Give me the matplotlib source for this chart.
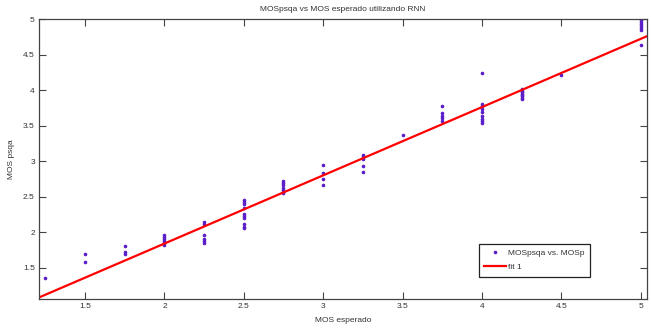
import matplotlib
matplotlib.use("Agg")
import matplotlib.pyplot as plt
import numpy as np

plt.rcParams['font.family'] = ['Liberation Sans', 'DejaVu Sans']

# MOS esperado (x) values per group and MOSpsqa measurements
x_125 = [1.25]; y_125 = [1.35]
x_150 = [1.5] * 2; y_150 = [1.69, 1.58]
x_175 = [1.75] * 3; y_175 = [1.80, 1.72, 1.70]
x_200 = [2.0] * 6; y_200 = [1.96, 1.93, 1.91, 1.88, 1.85, 1.82]
x_225 = [2.25] * 6; y_225 = [2.14, 2.11, 1.96, 1.91, 1.87, 1.85]
x_250 = [2.5] * 10; y_250 = [2.46, 2.42, 2.40, 2.34, 2.26, 2.23, 2.20, 2.11, 2.08, 2.06]
x_275 = [2.75] * 7; y_275 = [2.72, 2.69, 2.66, 2.62, 2.59, 2.57, 2.55]
x_300 = [3.0] * 4; y_300 = [2.94, 2.83, 2.75, 2.67]
x_325 = [3.25] * 5; y_325 = [3.09, 3.06, 3.03, 2.93, 2.85]
x_350 = [3.5]; y_350 = [3.37]
x_375 = [3.75] * 5; y_375 = [3.77, 3.68, 3.64, 3.60, 3.57]
x_400 = [4.0] * 9; y_400 = [4.24, 3.81, 3.77, 3.73, 3.69, 3.63, 3.59, 3.56, 3.53]
x_425 = [4.25] * 8; y_425 = [4.02, 3.99, 3.97, 3.95, 3.93, 3.91, 3.89, 3.87]
x_450 = [4.5]; y_450 = [4.21]
x_500 = [5.0] * 7; y_500 = [4.99, 4.96, 4.93, 4.90, 4.87, 4.84, 4.64]

mos_esperado = np.array(x_125 + x_150 + x_175 + x_200 + x_225 + x_250 + x_275 + x_300
                        + x_325 + x_350 + x_375 + x_400 + x_425 + x_450 + x_500)
mos_psqa = np.array(y_125 + y_150 + y_175 + y_200 + y_225 + y_250 + y_275 + y_300
                    + y_325 + y_350 + y_375 + y_400 + y_425 + y_450 + y_500)

# linear fit coefficients (fit 1)
fit_p1 = 0.96
fit_p2 = -0.08

xticks = [1.5, 2, 2.5, 3, 3.5, 4, 4.5, 5]
yticks = [1.5, 2, 2.5, 3, 3.5, 4, 4.5, 5]
xlim = (1.21, 5.04)
ylim = (1.06, 5.0)

FS = 6.0

fig = plt.figure(figsize=(6.51, 3.28), dpi=100)
ax = fig.add_axes([39/651, 1 - 299/328, (647-39)/651, (299-19)/328])

ax.plot(mos_esperado, mos_psqa, linestyle='none', marker='.', markersize=3.2,
        color='#5b1fc9', label='MOSpsqa vs. MOSp')
xf = np.linspace(xlim[0], xlim[1], 50)
ax.plot(xf, fit_p1 * xf + fit_p2, color='#ff0000', linewidth=1.6, label='fit 1')

ax.set_xlim(*xlim)
ax.set_ylim(*ylim)
ax.set_xticks(xticks)
ax.set_yticks(yticks)
ax.set_xticklabels([f"{t:g}" for t in xticks])
ax.set_yticklabels([f"{t:g}" for t in yticks])
ax.tick_params(direction='in', length=5, width=0.8, colors='#444444',
               labelsize=FS, top=True, right=True, pad=3, labelcolor='#333333')
for s in ax.spines.values():
    s.set_color('#444444')
    s.set_linewidth(0.9)

ax.set_title('MOSpsqa vs MOS esperado utilizando RNN', fontsize=FS, color='#333333', pad=6)
ax.set_xlabel('MOS esperado', fontsize=FS, color='#333333', labelpad=5)
ax.set_ylabel('MOS psqa', fontsize=FS, color='#333333', labelpad=6)

leg = ax.legend(loc='upper left', bbox_to_anchor=(479/651, 1 - 244/328),
                bbox_transform=fig.transFigure, fontsize=FS, fancybox=False,
                edgecolor='#222222', framealpha=1, handlelength=2.6, borderpad=0.65,
                labelspacing=0.75, handletextpad=0.2, borderaxespad=0)
leg.get_frame().set_linewidth(0.9)
for t in leg.get_texts():
    t.set_color('#333333')

fig.savefig('out.png', dpi=100)
